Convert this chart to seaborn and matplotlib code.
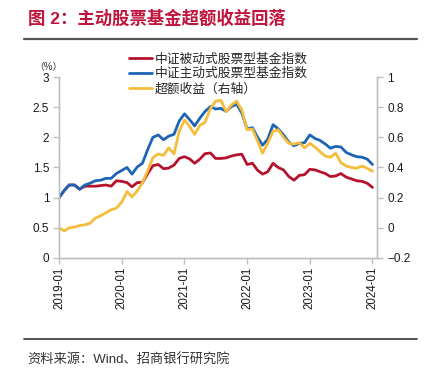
import matplotlib
matplotlib.use('Agg')
import matplotlib.pyplot as plt
import matplotlib.dates as mdates
from matplotlib.lines import Line2D
import numpy as np
import pandas as pd
import seaborn as sns

# 数据（按月，2019-01 ~ 2024-01）
months = pd.date_range('2019-01-01', periods=61, freq='MS')

passive_idx = [1.00, 1.12, 1.21, 1.21, 1.14, 1.19, 1.19, 1.19, 1.20, 1.21,
               1.19, 1.28, 1.27, 1.25, 1.18, 1.25, 1.25, 1.40, 1.53, 1.55,
               1.48, 1.49, 1.54, 1.65, 1.68, 1.64, 1.57, 1.64, 1.73, 1.74,
               1.65, 1.65, 1.66, 1.69, 1.71, 1.72, 1.55, 1.57, 1.46, 1.39,
               1.43, 1.57, 1.50, 1.46, 1.35, 1.29, 1.37, 1.38, 1.47, 1.46,
               1.43, 1.40, 1.35, 1.36, 1.40, 1.34, 1.31, 1.28, 1.27, 1.24,
               1.17]

active_idx = [1.00, 1.12, 1.21, 1.21, 1.14, 1.21, 1.24, 1.28, 1.29, 1.32,
              1.32, 1.40, 1.45, 1.50, 1.39, 1.51, 1.57, 1.80, 2.00, 2.04,
              1.96, 2.02, 2.05, 2.27, 2.39, 2.29, 2.19, 2.32, 2.43, 2.51,
              2.47, 2.48, 2.43, 2.51, 2.55, 2.40, 2.14, 2.16, 2.01, 1.87,
              1.97, 2.21, 2.14, 2.04, 1.92, 1.86, 1.90, 1.91, 2.04, 1.98,
              1.95, 1.89, 1.82, 1.85, 1.84, 1.75, 1.71, 1.68, 1.67, 1.64,
              1.55]

excess_ret = [0.00, -0.02, 0.00, 0.005, 0.015, 0.02, 0.03, 0.065, 0.08, 0.10,
              0.12, 0.13, 0.17, 0.24, 0.205, 0.245, 0.30, 0.38, 0.465, 0.49,
              0.48, 0.53, 0.49, 0.64, 0.715, 0.67, 0.62, 0.68, 0.70, 0.79,
              0.84, 0.845, 0.77, 0.815, 0.84, 0.78, 0.65, 0.655, 0.58, 0.495,
              0.56, 0.64, 0.65, 0.60, 0.56, 0.555, 0.565, 0.53, 0.56, 0.535,
              0.505, 0.476, 0.468, 0.494, 0.432, 0.41, 0.40, 0.395, 0.41, 0.395,
              0.375]

labels = ['中证被动式股票型基金指数', '中证主动式股票型基金指数', '超额收益（右轴）']
colors = ['#B5122E', '#1E64B4', '#F4BD3C']

left_ticks = [0, 0.5, 1, 1.5, 2, 2.5, 3]
right_ticks = [-0.2, 0, 0.2, 0.4, 0.6, 0.8, 1.0]

df = pd.DataFrame({'date': months, 'passive': passive_idx,
                   'active': active_idx, 'excess': excess_ret})

sns.set_style('white')
plt.rcParams['font.family'] = ['Liberation Sans', 'Noto Sans CJK SC', 'DejaVu Sans']
plt.rcParams['axes.unicode_minus'] = True

fig = plt.figure(figsize=(4.26, 3.79), dpi=100)
ax = fig.add_axes([0.1385, 0.3193, 0.7455, 0.4775])
ax2 = ax.twinx()

sns.lineplot(data=df, x='date', y='passive', ax=ax, color=colors[0], linewidth=2)
sns.lineplot(data=df, x='date', y='active', ax=ax, color=colors[1], linewidth=2)
sns.lineplot(data=df, x='date', y='excess', ax=ax2, color=colors[2], linewidth=2)

ax.set_ylim(0, 3)
ax2.set_ylim(-0.2, 1.0)
ax.set_xlim(pd.Timestamp('2019-01-01'), pd.Timestamp('2024-01-25'))
ax.set_yticks(left_ticks)
ax.set_yticklabels([f'{v:g}' for v in left_ticks])
ax2.set_yticks(right_ticks)
ax2.set_yticklabels([f'{v:g}'.replace('-', '\u2212') for v in right_ticks])
ax.set_xlabel('')
ax.set_ylabel('')
ax2.set_ylabel('')

ax.xaxis.set_major_locator(mdates.YearLocator(month=1, day=1))
ax.xaxis.set_major_formatter(mdates.DateFormatter('%Y-%m'))
for lab in ax.get_xticklabels():
    lab.set_rotation(90)

spine_c = '#BFBFBF'
for a in (ax, ax2):
    for s in a.spines.values():
        s.set_color(spine_c)
        s.set_linewidth(1)
    a.spines['top'].set_visible(False)
ax.tick_params(axis='both', which='major', length=4, width=1, color=spine_c,
               labelsize=8.5, labelcolor='#1a1a1a', direction='out', pad=3)
ax.tick_params(axis='x', labelsize=8.3, pad=2)
ax.tick_params(axis='y', left=True)
ax.tick_params(axis='x', bottom=True)
ax2.tick_params(axis='y', length=4, width=1, color=spine_c, labelsize=8.5,
                labelcolor='#1a1a1a', direction='out', right=True)

fig.text(0.113, 0.823, '（%）', fontsize=7, ha='center', va='center', color='#333333')

# 图例
handles = [Line2D([0], [0], color=c, lw=2) for c in colors]
ax.legend(handles, labels, loc='upper left', bbox_to_anchor=(0.303, 0.86),
          bbox_transform=fig.transFigure, frameon=False, fontsize=9.2,
          handlelength=1.8, handletextpad=0.2, labelspacing=0.2,
          borderpad=0, borderaxespad=0)

# 标题与来源
fig.text(0.066, 0.952, '图 2：主动股票基金超额收益回落', fontsize=12.5,
         fontweight='bold', color='#C0143C', ha='left', va='center')
fig.add_artist(Line2D([0.056, 0.979], [0.897, 0.897], color='#555555', lw=1.6,
                      transform=fig.transFigure))
fig.add_artist(Line2D([0.056, 0.979], [0.106, 0.106], color='#333333', lw=1.2,
                      transform=fig.transFigure))
fig.text(0.064, 0.05, '资料来源：Wind、招商银行研究院', fontsize=9.5,
         color='#333333', ha='left', va='center')

plt.savefig('out.png', dpi=100)
